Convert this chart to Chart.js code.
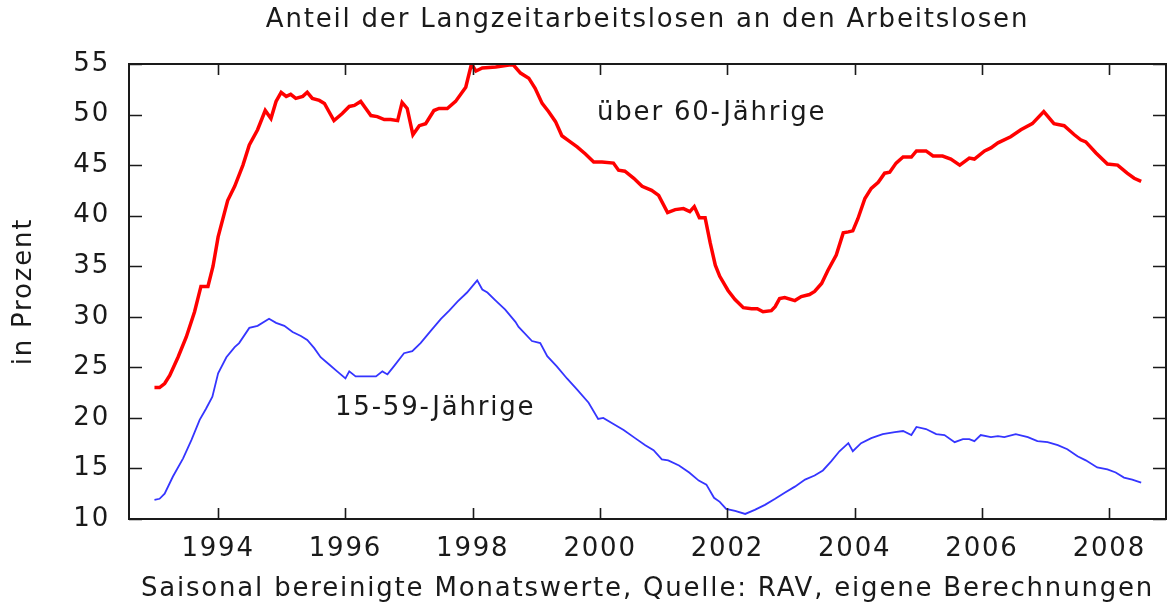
<!DOCTYPE html>
<html>
<head>
<meta charset="utf-8">
<script src="https://cdn.jsdelivr.net/npm/chart.js@4/dist/chart.umd.min.js"></script>
<style>
  body { margin: 0; background: #fff; }
  .chart-wrap { width: 1172px; height: 607px; position: relative; }
</style>
</head>
<body>
<div class="chart-wrap"><canvas id="chart"></canvas></div>
<script>
// Anteil der Langzeitarbeitslosen, Monatswerte (Jahr als Dezimalzahl)
const olderYears = [
  1993.00, 1993.08, 1993.16, 1993.24, 1993.37, 1993.50, 1993.63, 1993.73, 1993.84, 1993.92,
  1994.00, 1994.15, 1994.26, 1994.39, 1994.49, 1994.62, 1994.74, 1994.83, 1994.91, 1994.99,
  1995.07, 1995.14, 1995.22, 1995.33, 1995.40, 1995.48, 1995.59, 1995.67, 1995.74, 1995.82,
  1995.95, 1996.06, 1996.14, 1996.24, 1996.32, 1996.40, 1996.50, 1996.61, 1996.71, 1996.82,
  1996.89, 1996.97, 1997.06, 1997.16, 1997.26, 1997.39, 1997.47, 1997.60, 1997.73, 1997.89,
  1997.98, 1998.05, 1998.15, 1998.36, 1998.57, 1998.64, 1998.75, 1998.88, 1998.98, 1999.09,
  1999.19, 1999.30, 1999.40, 1999.51, 1999.64, 1999.77, 1999.90, 2000.03, 2000.21, 2000.29,
  2000.39, 2000.53, 2000.66, 2000.81, 2000.92, 2001.06, 2001.18, 2001.31, 2001.41, 2001.48,
  2001.56, 2001.65, 2001.73, 2001.81, 2001.88, 2002.01, 2002.12, 2002.25, 2002.38, 2002.47,
  2002.56, 2002.69, 2002.75, 2002.82, 2002.90, 2003.06, 2003.16, 2003.29, 2003.37, 2003.48,
  2003.58, 2003.71, 2003.82, 2003.90, 2003.97, 2004.05, 2004.16, 2004.26, 2004.37, 2004.47,
  2004.55, 2004.65, 2004.76, 2004.89, 2004.97, 2005.12, 2005.23, 2005.38, 2005.51, 2005.65,
  2005.80, 2005.88, 2006.04, 2006.14, 2006.25, 2006.45, 2006.61, 2006.79, 2006.97, 2007.13,
  2007.29, 2007.45, 2007.55, 2007.63, 2007.79, 2007.97, 2008.13, 2008.28, 2008.39, 2008.50
];
const olderShare = [
  23.0, 23.0, 23.4, 24.2, 26.0, 28.0, 30.5, 33.0, 33.0, 35.0,
  37.9, 41.5, 42.9, 45.0, 47.0, 48.5, 50.4, 49.6, 51.3, 52.2,
  51.8, 52.0, 51.6, 51.8, 52.2, 51.6, 51.4, 51.1, 50.3, 49.4,
  50.1, 50.8, 50.9, 51.3, 50.6, 49.9, 49.8, 49.5, 49.5, 49.4,
  51.2, 50.6, 48.0, 48.9, 49.1, 50.4, 50.6, 50.6, 51.3, 52.7,
  55.0, 54.3, 54.6, 54.7, 54.9, 54.9, 54.1, 53.6, 52.6, 51.1,
  50.3, 49.3, 47.9, 47.4, 46.8, 46.1, 45.3, 45.3, 45.2, 44.5,
  44.4, 43.7, 42.9, 42.5, 42.0, 40.3, 40.6, 40.7, 40.4, 40.9,
  39.8, 39.8, 37.3, 35.1, 34.0, 32.6, 31.7, 30.9, 30.8, 30.8,
  30.5, 30.6, 31.0, 31.8, 31.9, 31.6, 32.0, 32.2, 32.5, 33.3,
  34.6, 36.1, 38.3, 38.4, 38.5, 39.7, 41.7, 42.7, 43.3, 44.2,
  44.3, 45.2, 45.8, 45.8, 46.4, 46.4, 45.9, 45.9, 45.6, 45.0,
  45.7, 45.6, 46.4, 46.7, 47.2, 47.8, 48.5, 49.1, 50.3, 49.1,
  48.9, 48.0, 47.5, 47.3, 46.2, 45.1, 45.0, 44.2, 43.7, 43.4
];

const youngerYears = [
  1993.00, 1993.08, 1993.16, 1993.29, 1993.45, 1993.58, 1993.71, 1993.81, 1993.91, 1994.00,
  1994.13, 1994.26, 1994.33, 1994.49, 1994.62, 1994.80, 1994.91, 1995.04, 1995.17, 1995.30,
  1995.40, 1995.51, 1995.61, 1995.74, 1995.87, 1996.00, 1996.06, 1996.16, 1996.32, 1996.48,
  1996.58, 1996.66, 1996.76, 1996.92, 1997.05, 1997.18, 1997.34, 1997.50, 1997.63, 1997.76,
  1997.91, 1998.07, 1998.15, 1998.23, 1998.36, 1998.51, 1998.67, 1998.72, 1998.93, 1999.06,
  1999.17, 1999.32, 1999.48, 1999.64, 1999.82, 1999.97, 2000.05, 2000.21, 2000.37, 2000.55,
  2000.71, 2000.84, 2000.97, 2001.07, 2001.24, 2001.40, 2001.55, 2001.67, 2001.79, 2001.88,
  2001.98, 2002.12, 2002.28, 2002.43, 2002.59, 2002.75, 2002.90, 2003.06, 2003.22, 2003.37,
  2003.50, 2003.63, 2003.76, 2003.90, 2003.97, 2004.10, 2004.26, 2004.44, 2004.63, 2004.76,
  2004.89, 2004.97, 2005.12, 2005.28, 2005.41, 2005.57, 2005.70, 2005.80, 2005.88, 2005.98,
  2006.14, 2006.25, 2006.35, 2006.53, 2006.72, 2006.87, 2007.03, 2007.19, 2007.34, 2007.50,
  2007.63, 2007.81, 2007.97, 2008.10, 2008.23, 2008.36, 2008.50
];
const youngerShare = [
  11.9, 12.0, 12.5, 14.2, 16.0, 17.8, 19.8, 20.9, 22.1, 24.4,
  26.0, 27.0, 27.4, 28.9, 29.1, 29.8, 29.4, 29.1, 28.5, 28.1,
  27.7, 26.9, 26.0, 25.3, 24.6, 23.9, 24.6, 24.1, 24.1, 24.1,
  24.6, 24.3, 25.1, 26.4, 26.6, 27.4, 28.6, 29.8, 30.6, 31.5,
  32.4, 33.6, 32.7, 32.4, 31.6, 30.7, 29.5, 29.0, 27.6, 27.4,
  26.1, 25.1, 23.9, 22.8, 21.5, 19.9, 20.0, 19.4, 18.8, 18.0,
  17.3, 16.8, 15.9, 15.8, 15.3, 14.6, 13.8, 13.4, 12.1, 11.7,
  11.0, 10.8, 10.5, 10.9, 11.4, 12.0, 12.6, 13.2, 13.9, 14.3,
  14.8, 15.7, 16.7, 17.5, 16.7, 17.5, 18.0, 18.4, 18.6, 18.7,
  18.3, 19.1, 18.9, 18.4, 18.3, 17.6, 17.9, 17.9, 17.7, 18.3,
  18.1, 18.2, 18.1, 18.4, 18.1, 17.7, 17.6, 17.3, 16.9, 16.2,
  15.8, 15.1, 14.9, 14.6, 14.1, 13.9, 13.6
];

const yearTicks = [1994, 1996, 1998, 2000, 2002, 2004, 2006, 2008];
const percentTicks = [10, 15, 20, 25, 30, 35, 40, 45, 50, 55];

const FONT = "'DejaVu Sans', Verdana, sans-serif";
const FONT_SIZE = 26;
const TEXT_COLOR = "#1a1a1a";

const toPoints = (xs, ys) => xs.map((x, i) => ({ x: x, y: ys[i] }));

// gnuplot look: frame, inward ticks, free texts
const framePlugin = {
  id: "frame",
  beforeDraw(chart) {
    chart.ctx.letterSpacing = "1.8px";
  },
  afterDraw(chart) {
    const { ctx, chartArea: { left, top, right, bottom } } = chart;
    const xScale = chart.scales.x;
    const yScale = chart.scales.y;
    ctx.save();
    ctx.strokeStyle = TEXT_COLOR;
    ctx.lineWidth = 2;
    ctx.strokeRect(left, top, right - left, bottom - top);

    ctx.beginPath();
    yearTicks.forEach((v) => {
      const px = Math.round(xScale.getPixelForValue(v)) + 0.5;
      ctx.moveTo(px, bottom);
      ctx.lineTo(px, bottom - 11);
      ctx.moveTo(px, top);
      ctx.lineTo(px, top + 11);
    });
    percentTicks.forEach((v) => {
      const py = Math.round(yScale.getPixelForValue(v)) + 0.5;
      ctx.moveTo(left, py);
      ctx.lineTo(left + 13, py);
      ctx.moveTo(right, py);
      ctx.lineTo(right - 13, py);
    });
    ctx.lineWidth = 1.6;
    ctx.stroke();

    ctx.fillStyle = TEXT_COLOR;
    ctx.font = FONT_SIZE + "px " + FONT;
    ctx.textBaseline = "middle";
    ctx.textAlign = "center";
    const midX = (left + right) / 2;
    ctx.fillText("Anteil der Langzeitarbeitslosen an den Arbeitslosen", midX, 20);
    ctx.fillText("Saisonal bereinigte Monatswerte, Quelle: RAV, eigene Berechnungen", midX, 589);

    ctx.textAlign = "left";
    ctx.fillText("über 60-Jährige", 597, 113);
    ctx.fillText("15-59-Jährige", 335, 408);

    ctx.save();
    ctx.translate(24, (top + bottom) / 2);
    ctx.rotate(-Math.PI / 2);
    ctx.textAlign = "center";
    ctx.fillText("in Prozent", 0, 0);
    ctx.restore();
    ctx.restore();
  },
};

new Chart(document.getElementById("chart"), {
  type: "line",
  data: {
    datasets: [
      {
        label: "über 60-Jährige",
        data: toPoints(olderYears, olderShare),
        borderColor: "#ff0000",
        borderWidth: 3.5,
        pointRadius: 0,
        tension: 0,
      },
      {
        label: "15-59-Jährige",
        data: toPoints(youngerYears, youngerShare),
        borderColor: "#3535ff",
        borderWidth: 1.8,
        pointRadius: 0,
        tension: 0,
      },
    ],
  },
  options: {
    responsive: true,
    maintainAspectRatio: false,
    animation: false,
    layout: {
      padding: { top: 64, right: 6, left: 0, bottom: 0 },
    },
    scales: {
      x: {
        type: "linear",
        min: 1992.6,
        max: 2008.89,
        grid: { display: false, drawTicks: false },
        border: { display: false },
        afterFit(scale) {
          scale.height = 88;
        },
        afterBuildTicks(scale) {
          scale.ticks = yearTicks.map((v) => ({ value: v }));
        },
        ticks: {
          padding: 15,
          color: TEXT_COLOR,
          font: { family: FONT, size: FONT_SIZE },
          maxRotation: 0,
          callback: (value) => String(value),
        },
      },
      y: {
        type: "linear",
        min: 10,
        max: 55,
        grid: { display: false, drawTicks: false },
        border: { display: false },
        afterFit(scale) {
          scale.width = 129;
        },
        afterBuildTicks(scale) {
          scale.ticks = percentTicks.map((v) => ({ value: v }));
        },
        ticks: {
          padding: 19,
          color: TEXT_COLOR,
          font: { family: FONT, size: FONT_SIZE },
          callback: (value) => String(value),
        },
      },
    },
    plugins: {
      legend: { display: false },
      tooltip: { enabled: false },
    },
  },
  plugins: [framePlugin],
});
</script>
</body>
</html>
